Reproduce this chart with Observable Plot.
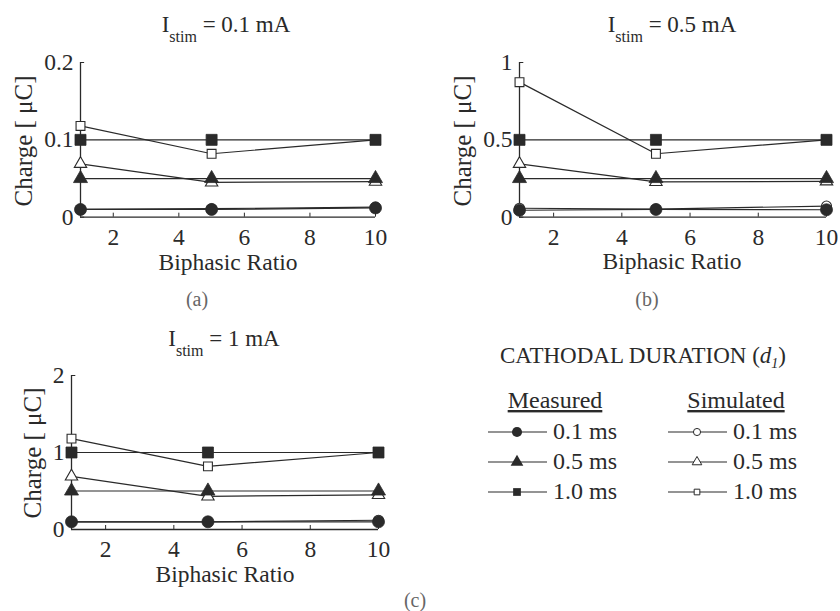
<!DOCTYPE html>
<html>
<head>
<meta charset="utf-8">
<script src="https://cdn.jsdelivr.net/npm/d3@7"></script>
<script src="https://cdn.jsdelivr.net/npm/@observablehq/plot@0.6"></script>
<style>
  html, body { margin: 0; padding: 0; background: #fff; }
  #root { position: relative; width: 840px; height: 611px; background: #fff; overflow: hidden; }
  .panel { position: absolute; }
  #overlay { position: absolute; left: 0; top: 0; }
</style>
</head>
<body>
<div id="root">
  <div class="panel" id="pa" style="left:0px;top:0px"></div>
  <div class="panel" id="pb" style="left:420px;top:0px"></div>
  <div class="panel" id="pc" style="left:0px;top:300px"></div>
  <svg id="overlay" width="840" height="611"></svg>
</div>
<script>
// ---------------- DATA ----------------
const ratios = [1, 5, 10];                 // Biphasic ratio (x)
const durations = ["0.1 ms", "0.5 ms", "1.0 ms"];
const xTicks = [2, 4, 6, 8, 10];

// Panel (a): I_stim = 0.1 mA
const measA = [[0.010, 0.010, 0.012], [0.050, 0.050, 0.050], [0.100, 0.100, 0.100]];
const simA  = [[0.010, 0.011, 0.013], [0.069, 0.045, 0.046], [0.118, 0.082, 0.100]];
const yTicksA = [0, 0.1, 0.2];

// Panel (b): I_stim = 0.5 mA
const measB = [[0.045, 0.050, 0.048], [0.250, 0.250, 0.250], [0.500, 0.500, 0.500]];
const simB  = [[0.058, 0.052, 0.072], [0.345, 0.228, 0.232], [0.873, 0.410, 0.500]];
const yTicksB = [0, 0.5, 1];

// Panel (c): I_stim = 1 mA
const measC = [[0.100, 0.100, 0.100], [0.500, 0.500, 0.500], [1.000, 1.000, 1.000]];
const simC  = [[0.100, 0.100, 0.120], [0.690, 0.430, 0.450], [1.180, 0.820, 1.000]];
const yTicksC = [0, 1, 2];

const titles = ["0.1 mA", "0.5 mA", "1 mA"];

// ---------------- STYLE ----------------
const INK = "#2a2a2a";
const FONT = "'Liberation Serif', 'Times New Roman', serif";
const symbols = ["circle", "triangle", "square"];
const measR = [6, 5.2, 6.2];
const simR = [5, 4.6, 5];

function rows(series, kind) {
  const out = [];
  series.forEach((vals, i) => vals.forEach((v, j) => out.push({x: ratios[j], y: v, d: durations[i], k: i, kind})));
  return out;
}

function panel(meas, sim, yTicks, geo) {
  const ymax = yTicks[yTicks.length - 1];
  const dm = rows(meas, "meas"), ds = rows(sim, "sim");
  const tickLen = ymax * 0.026;
  const tickLenX = 9 * 0.014;
  const marks = [
    // axis lines (box off, MATLAB style)
    Plot.ruleY([0], {x1: 1, x2: 10, stroke: INK, strokeWidth: 1.3}),
    Plot.ruleX([1], {y1: 0, y2: ymax, stroke: INK, strokeWidth: 1.3}),
    // inward ticks
    Plot.ruleX(xTicks, {x: d => d, y1: 0, y2: tickLen, stroke: INK, strokeWidth: 1}),
    Plot.ruleY(yTicks, {y: d => d, x1: 1, x2: 1 + tickLenX, stroke: INK, strokeWidth: 1}),
    Plot.axisX({ticks: xTicks, tickSize: 0, tickPadding: 11, tickFormat: d3.format("d"), fill: INK, label: null}),
    Plot.axisY({ticks: yTicks, tickSize: 0, tickPadding: 7, tickFormat: d => String(d), fill: INK, label: null}),
    // lines
    Plot.line(ds, {x: "x", y: "y", z: "d", stroke: INK, strokeWidth: 1.2}),
    Plot.line(dm, {x: "x", y: "y", z: "d", stroke: INK, strokeWidth: 1.2}),
  ];
  // simulated: open markers
  [0, 1, 2].forEach(k => {
    marks.push(Plot.dot(ds.filter(d => d.k === k), {x: "x", y: "y", symbol: () => symbols[k], r: simR[k], fill: "white", stroke: INK, strokeWidth: 1.1}));
  });
  // measured: filled markers
  [0, 1, 2].forEach(k => {
    marks.push(Plot.dot(dm.filter(d => d.k === k), {x: "x", y: "y", symbol: () => symbols[k], r: measR[k], fill: INK, stroke: INK, strokeWidth: 0.8}));
  });
  return Plot.plot({
    width: geo.w, height: geo.h,
    marginLeft: geo.ml, marginRight: geo.mr, marginTop: geo.mt, marginBottom: geo.mb,
    x: {domain: [1, 10], axis: null, label: null},
    y: {domain: [0, ymax], axis: null, label: null},
    symbol: {type: "identity"},
    style: {fontFamily: FONT, fontSize: "23.5px", color: INK, background: "transparent", overflow: "visible"},
    marks
  });
}

document.getElementById("pa").appendChild(panel(measA, simA, yTicksA, {w: 420, h: 300, ml: 80, mr: 45, mt: 62, mb: 83.3}));
document.getElementById("pb").appendChild(panel(measB, simB, yTicksB, {w: 420, h: 300, ml: 99, mr: 14, mt: 62, mb: 83.3}));
document.getElementById("pc").appendChild(panel(measC, simC, yTicksC, {w: 420, h: 300, ml: 71, mr: 42, mt: 75, mb: 71}));

// ---------------- TEXT OVERLAY ----------------
const svg = d3.select("#overlay").style("font-family", FONT);

function title(cx, by, value) {
  const t = svg.append("text").attr("x", cx).attr("y", by).attr("text-anchor", "middle")
    .attr("font-size", 23).attr("fill", INK);
  t.append("tspan").text("I");
  t.append("tspan").attr("dy", 10).attr("font-size", 16).text("stim");
  t.append("tspan").attr("dy", -10).text(" = " + value);
}
title(226, 32, titles[0]);
title(672, 32, titles[1]);
title(224, 346, titles[2]);

function xlabel(cx, by) {
  svg.append("text").attr("x", cx).attr("y", by).attr("text-anchor", "middle")
    .attr("font-size", 23.5).attr("fill", INK).text("Biphasic Ratio");
}
xlabel(228, 270); xlabel(672, 269); xlabel(225, 582);

function ylabel(bx, cy) {
  svg.append("text").attr("transform", `translate(${bx},${cy}) rotate(-90)`).attr("text-anchor", "middle")
    .attr("font-size", 25).attr("fill", INK).text("Charge [ μC]");
}
ylabel(32, 141); ylabel(471, 141); ylabel(41, 453);

function letter(cx, by, s) {
  svg.append("text").attr("x", cx).attr("y", by).attr("text-anchor", "middle")
    .attr("font-size", 20).attr("fill", "#666").text(s);
}
letter(197, 306, "(a)"); letter(647, 306, "(b)"); letter(415, 607, "(c)");

// ---------------- LEGEND ----------------
const lt = svg.append("text").attr("x", 643).attr("y", 363).attr("text-anchor", "middle")
  .attr("font-size", 23).attr("fill", INK);
lt.append("tspan").text("CATHODAL DURATION (");
lt.append("tspan").attr("font-style", "italic").text("d");
lt.append("tspan").attr("font-style", "italic").attr("font-size", 14).attr("dy", 5).text("1");
lt.append("tspan").attr("dy", -5).text(")");

function heading(cx, by, s) {
  svg.append("text").attr("x", cx).attr("y", by).attr("text-anchor", "middle")
    .attr("font-size", 24).attr("fill", INK).attr("text-decoration", "underline").text(s);
}
heading(555, 408, "Measured");
heading(736, 408, "Simulated");

const rowY = [432, 462, 492];
const legSym = [d3.symbolCircle, d3.symbolTriangle, d3.symbolSquare];
const legMeasSize = [80, 70, 60];
const legSimSize = [40, 40, 32];
[0, 1, 2].forEach(k => {
  const y = rowY[k];
  // measured
  svg.append("line").attr("x1", 488).attr("x2", 547).attr("y1", y).attr("y2", y).attr("stroke", INK).attr("stroke-width", 1.2);
  svg.append("path").attr("d", d3.symbol(legSym[k], legMeasSize[k])()).attr("transform", `translate(517,${y})`)
    .attr("fill", INK);
  svg.append("text").attr("x", 553).attr("y", y + 7).attr("font-size", 24).attr("fill", INK).text(durations[k]);
  // simulated
  svg.append("line").attr("x1", 668).attr("x2", 727).attr("y1", y).attr("y2", y).attr("stroke", INK).attr("stroke-width", 1.2);
  svg.append("path").attr("d", d3.symbol(legSym[k], legSimSize[k])()).attr("transform", `translate(697,${y})`)
    .attr("fill", "white").attr("stroke", INK).attr("stroke-width", 1);
  svg.append("text").attr("x", 733).attr("y", y + 7).attr("font-size", 24).attr("fill", INK).text(durations[k]);
});
</script>
</body>
</html>
